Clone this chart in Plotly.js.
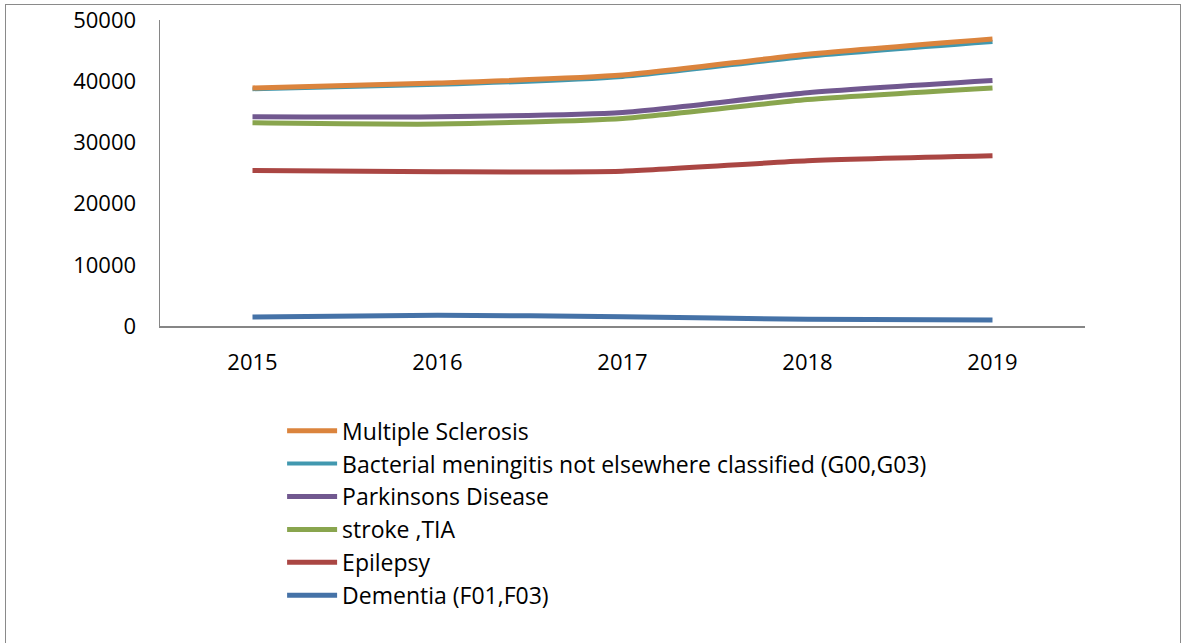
<!DOCTYPE html>
<html>
<head>
<meta charset="utf-8">
<script src="https://cdn.plot.ly/plotly-3.0.1.min.js"></script>
<style>
  html, body { margin: 0; padding: 0; background: #fff; }
  #chart { width: 1182px; height: 643px; }
  #frame { position: absolute; left: 5px; top: 4px; width: 1174px; height: 645px; border: 1.5px solid #8a8a8a; pointer-events: none; }
</style>
</head>
<body>
<div id="chart"></div>
<div id="frame"></div>
<script>
const years = ['2015', '2016', '2017', '2018', '2019'];

const multipleSclerosis = [38900, 39700, 41000, 44400, 46900];
const bacterialMeningitis = [38700, 39400, 40700, 44000, 46400];
const parkinsons = [34200, 34200, 34900, 38100, 40100];
const strokeTIA = [33200, 33000, 33900, 37000, 38900];
const epilepsy = [25400, 25200, 25300, 27000, 27800];
const dementia = [1470, 1750, 1520, 1090, 980];

const seriesNames = [
  'Dementia (F01,F03)',
  'Epilepsy',
  'stroke ,TIA',
  'Parkinsons Disease',
  'Bacterial meningitis not elsewhere classified (G00,G03)',
  'Multiple Sclerosis'
];
const seriesValues = [dementia, epilepsy, strokeTIA, parkinsons, bacterialMeningitis, multipleSclerosis];
const seriesColors = ['#4572A7', '#AA4643', '#89A54E', '#71588F', '#4198AF', '#DB843D'];

const traces = seriesNames.map((name, i) => ({
  type: 'scatter',
  mode: 'lines',
  name: name,
  x: years,
  y: seriesValues[i],
  line: { color: seriesColors[i], width: i === 4 ? 4 : 5, shape: 'spline', smoothing: 0.6 }
}));

const font = 'Open Sans, Lato, sans-serif';

const layout = {
  width: 1182,
  height: 643,
  margin: { l: 160, r: 97, t: 20, b: 317 },
  paper_bgcolor: '#ffffff',
  plot_bgcolor: '#ffffff',
  showlegend: true,
  legend: {
    x: 0.132,
    y: -0.272,
    xanchor: 'left',
    yanchor: 'top',
    traceorder: 'reversed',
    itemwidth: 50,
    font: { family: font, size: 23, color: '#000000' },
    bgcolor: 'rgba(0,0,0,0)'
  },
  xaxis: {
    type: 'category',
    range: [-0.5, 4.5],
    showgrid: false,
    zeroline: false,
    showline: true,
    linecolor: '#868686',
    linewidth: 1.5,
    ticks: '',
    ticklabelstandoff: 16,
    tickfont: { family: font, size: 22, color: '#000000' }
  },
  yaxis: {
    range: [0, 50000],
    tickvals: [0, 10000, 20000, 30000, 40000, 50000],
    ticktext: ['0', '10000', '20000', '30000', '40000', '50000'],
    showgrid: false,
    zeroline: false,
    showline: true,
    linecolor: '#868686',
    linewidth: 1.5,
    ticks: '',
    ticklabelstandoff: 18,
    tickfont: { family: font, size: 22, color: '#000000' }
  }
};

Plotly.newPlot('chart', traces, layout, { displayModeBar: false, staticPlot: true });
</script>
</body>
</html>
